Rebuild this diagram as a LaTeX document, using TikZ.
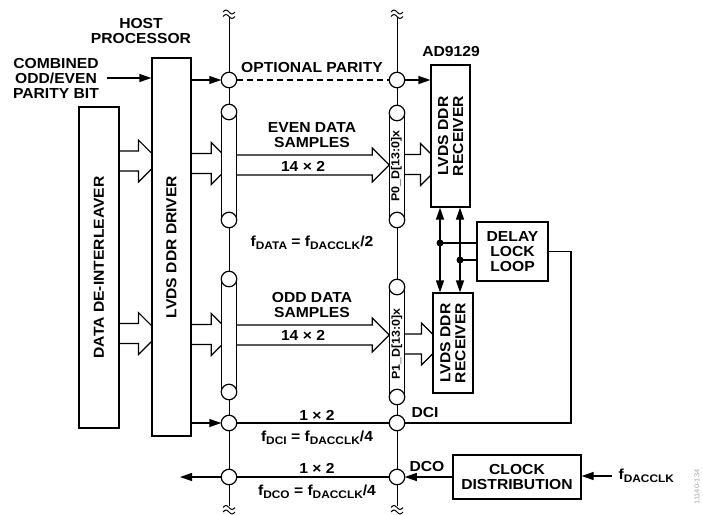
\documentclass[tikz,border=0pt]{standalone}
\usepackage{fontspec}
\setmainfont{Liberation Sans}[FakeStretch=1.08]
\usetikzlibrary{arrows.meta,calc,backgrounds}

\newcommand\lbfont{\fontsize{14.5}{15}\selectfont\bfseries}
\newcommand\pinfont{\fontsize{11.5}{12}\selectfont\bfseries}
\newcommand\sig[1]{\raisebox{-3.5pt}{\fontsize{11}{11}\selectfont #1}}
% hollow bus arrow: start anchor, target anchor, centre y, head size, overshoot
\newcommand\blockarrow[5]{%
  \draw[hollow] let \p1=(#1), \p2=(#2) in
    (\x1-2,#3-10) -- (\x2+#5-#4,#3-10) -- (\x2+#5-#4,#3-#4)
    -- (\x2+#5,#3) -- (\x2+#5-#4,#3+#4) -- (\x2+#5-#4,#3+10) -- (\x1-2,#3+10);}

\tikzset{
  box/.style={draw, fill=white, inner sep=0pt, align=center, font=\lbfont},
  junc/.style={circle, draw, fill=white, minimum size=15.5pt, inner sep=0pt, outer sep=0pt},
  lbl/.style={font=\lbfont, align=center, inner sep=0pt},
  arr/.style={-{Triangle[length=12pt,width=8pt]}},
  dbl/.style={{Triangle[length=12pt,width=8pt]}-{Triangle[length=12pt,width=8pt]}},
  hollow/.style={line width=1.2pt, line join=miter},
  brk/.style={line width=1pt}
}

\begin{document}
\begin{tikzpicture}[x=1pt, y=-1pt, line width=1.2pt]
  \useasboundingbox (0,0) rectangle (703,514);

  % Bus pills
  \foreach \nm/\x/\ya/\yb in {evenL/229/112/220, evenR/397/113/220, oddL/229/279/392, oddR/397/287/397}{
    \fill[white] (\x-7.75,\ya) rectangle (\x+7.75,\yb);
    \draw (\x-7.75,\ya) -- (\x-7.75,\yb) (\x+7.75,\ya) -- (\x+7.75,\yb);
    \node[junc] (\nm-t) at (\x,\ya) {};
    \node[junc] (\nm-b) at (\x,\yb) {};
  }

  % Blocks
  \node[box, minimum width=40pt, minimum height=321pt] (deint) at (99,267.5) {};
  \node[box, minimum width=39pt, minimum height=378pt] (host) at (171.5,247) {};
  \node[box, minimum width=39pt, minimum height=142pt] (rec0) at (450.5,136) {};
  \node[box, minimum width=40pt, minimum height=100pt] (rec1) at (453,343) {};
  \node[box, minimum width=71pt, minimum height=59pt] (dll) at (512.5,251.5) {DELAY\\LOCK\\LOOP};
  \node[box, minimum width=128pt, minimum height=44pt] (clk) at (517,477) {CLOCK\\DISTRIBUTION};

  \node[lbl, rotate=90] at (deint) {DATA DE-INTERLEAVER};
  \node[lbl, rotate=90] at (host) {LVDS DDR DRIVER};
  \node[lbl, rotate=90] at (rec0) {LVDS DDR\\RECEIVER};
  \node[lbl, rotate=90] at (rec1) {LVDS DDR\\RECEIVER};
  \node[font=\pinfont, inner sep=0pt, rotate=90] at (396.5,166) {P0\_D[13:0]x};
  \node[font=\pinfont, inner sep=0pt, rotate=90] at (397,344) {P1\_D[13:0]x};

  % Junctions
  \node[junc] (parL) at (229,80) {};
  \node[junc] (parR) at (397,80) {};
  \node[junc] (dciL) at (229,423) {};
  \node[junc] (dciR) at (397,423) {};
  \node[junc] (dcoL) at (229,477) {};
  \node[junc] (dcoR) at (397,477) {};

  \coordinate (busL-top) at (229,17);
  \coordinate (busL-bot) at (229,506);
  \coordinate (busR-top) at (397,17);
  \coordinate (busR-bot) at (397,506);

  \begin{scope}[on background layer, line width=1.2pt]
    \draw (busL-top) -- (busL-bot);
    \draw (busR-top) -- (busR-bot);
    % wide data paths
    \blockarrow{deint.east}{host.west}{161}{21}{8}
    \blockarrow{host.east}{evenL-t.west}{163.5}{21}{11}
    \blockarrow{evenL-t.east}{evenR-t.west}{165}{17}{0}
    \blockarrow{evenR-t.east}{rec0.west}{164.5}{21}{11}
    \blockarrow{deint.east}{host.west}{333.5}{21}{8}
    \blockarrow{host.east}{oddL-t.west}{334.5}{21}{11}
    \blockarrow{oddL-t.east}{oddR-t.west}{335}{17}{0}
    \blockarrow{oddR-t.east}{rec1.west}{344}{21}{10}
  \end{scope}

  % Break marks
  \foreach \x in {229,397}{
    \foreach \y in {12,16.5,507.5,512}{
      \draw[brk] (\x-6,\y) sin (\x-3,\y-2) cos (\x,\y) sin (\x+3,\y+2) cos (\x+6,\y);
    }
  }

  % Parity path
  \node[lbl] (paritybit) at (56,78) {COMBINED\\ODD/EVEN\\PARITY BIT};
  \draw[arr] ([xshift=7pt]paritybit.east) -- (paritybit.east -| host.west);
  \draw[arr] (host.east |- parL) -- (parL);
  \draw[dash pattern=on 6pt off 4pt] (parL) -- (parR);
  \draw[arr] (parR) -- (parR -| rec0.west);

  % Delay lock loop taps
  \coordinate (tap0) at ([xshift=-10.5pt]rec0.south |- 0,243);
  \coordinate (tap1) at ([xshift=9.5pt]rec0.south |- 0,260);
  \draw[dbl] ([xshift=-10.5pt]rec0.south) -- ([xshift=-10.5pt]rec0.south |- rec1.north);
  \draw[dbl] ([xshift=9.5pt]rec0.south) -- ([xshift=9.5pt]rec0.south |- rec1.north);
  \fill (tap0) circle (3.5pt);
  \fill (tap1) circle (3.5pt);
  \draw (tap0) -- (tap0 -| dll.west);
  \draw (tap1) -- (tap1 -| dll.west);

  % Clock lines
  \coordinate (dlltap) at (571,423);
  \coordinate (dcoout) at (180,477);
  \draw (dll.east) -| (dlltap) -- (dciR);
  \draw[arr] (host.east |- dciL) -- (dciL);
  \draw (dciL) -- (dciR);
  \draw (dcoL) -- (dcoR);
  \draw[arr] (dcoL) -- (dcoout);
  \draw[arr] (clk.west) -- (dcoR);
  \node[lbl, anchor=west] (fclk) at (618,476) {f\sig{DACCLK}};
  \draw[arr] ([xshift=-6pt]fclk.west) -- (fclk.west -| clk.east);

  % Labels
  \node[lbl] at (141,31) {HOST\\PROCESSOR};
  \node[lbl] at (451,52) {AD9129};
  \node[lbl] at (312,68) {OPTIONAL PARITY};
  \node[lbl] at (312,135.5) {EVEN DATA\\SAMPLES};
  \node[lbl] at (303,166) {14 × 2};
  \node[lbl] at (312,243) {f\sig{DATA} = f\sig{DACCLK}/2};
  \node[lbl] at (312,305) {ODD DATA\\SAMPLES};
  \node[lbl] at (303,335) {14 × 2};
  \node[lbl] at (317,415) {1 × 2};
  \node[lbl] at (317,438) {f\sig{DCI} = f\sig{DACCLK}/4};
  \node[lbl] at (425,413) {DCI};
  \node[lbl] at (317,468) {1 × 2};
  \node[lbl] at (317,492) {f\sig{DCO} = f\sig{DACCLK}/4};
  \node[lbl] at (427,466) {DCO};
  \node[font=\fontsize{7}{7}\selectfont, text=gray!70, rotate=90, inner sep=0pt] at (697,487) {11140-134};
\end{tikzpicture}
\end{document}
